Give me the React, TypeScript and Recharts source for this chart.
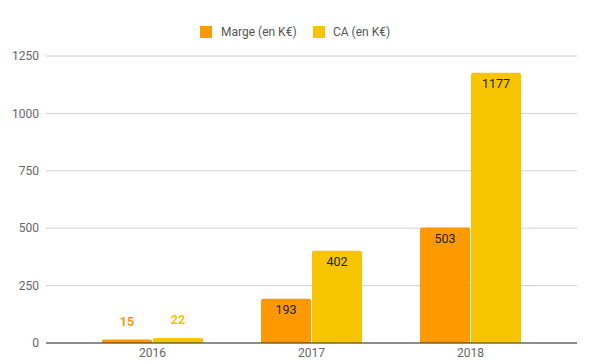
import React from "react";
import { BarChart, Bar, XAxis, YAxis, CartesianGrid, Legend, LabelList } from "recharts";

const years = ["2016", "2017", "2018"];
const marge = [15, 193, 503];
const ca = [22, 402, 1177];
const yTicks = [0, 250, 500, 750, 1000, 1250];

const ORANGE = "#ff9900";
const YELLOW = "#f6c500";

const data = years.map((y, i) => ({ year: y, marge: marge[i], ca: ca[i] }));

const makeLabel = (color: string) => (props: any) => {
  const { x, y, width, height, value } = props;
  const cx = x + width / 2;
  if (height < 24) {
    return (
      <text x={cx} y={y - 18} textAnchor="middle" dominantBaseline="central" fill={color} fontSize={12.5} fontWeight={700} fontFamily="Roboto">
        {value}
      </text>
    );
  }
  return (
    <text x={cx} y={y + 11} textAnchor="middle" dominantBaseline="central" fill="#222" fontSize={12.5} fontFamily="Roboto">
      {value}
    </text>
  );
};

const LegendContent = () => (
  <div style={{ height: 20, position: "relative", fontFamily: "Roboto", fontSize: 12, color: "#555" }}>
    <div style={{ position: "absolute", left: 200, top: 4, width: 12, height: 12, background: ORANGE }} />
    <div style={{ position: "absolute", left: 221, top: 1, lineHeight: "18px", whiteSpace: "nowrap" }}>Marge (en K€)</div>
    <div style={{ position: "absolute", left: 313, top: 4, width: 12, height: 12, background: YELLOW }} />
    <div style={{ position: "absolute", left: 333, top: 1, lineHeight: "18px", whiteSpace: "nowrap" }}>CA (en K€)</div>
  </div>
);

export default function App() {
  return (
    <div style={{ position: "absolute", left: 0, top: 0, width: 597, height: 364, background: "#fff" }}>
      <BarChart width={597} height={364} data={data} margin={{ top: 36, right: 20, bottom: 0, left: 0 }} barGap={1} barCategoryGap={0}>
        <CartesianGrid vertical={false} stroke="#d0d0d0" />
        <Legend verticalAlign="top" content={<LegendContent />} wrapperStyle={{ top: 22, left: 0, width: 597, height: 20 }} />
        <XAxis
          dataKey="year"
          height={21}
          padding={{ left: 27, right: 27 }}
          tickLine={false}
          axisLine={{ stroke: "#333", strokeWidth: 1 }}
          tick={{ fill: "#666", fontSize: 12, fontFamily: "Roboto" }}
          tickSize={0}
          tickMargin={5}
          interval={0}
        />
        <YAxis
          width={46}
          domain={[0, 1250]}
          ticks={yTicks}
          tickLine={false}
          axisLine={false}
          tick={{ fill: "#666", fontSize: 12, fontFamily: "Roboto" }}
          tickSize={0}
          tickMargin={7}
          interval={0}
        />
        <Bar dataKey="marge" fill={ORANGE} barSize={50} radius={[2, 2, 0, 0]} isAnimationActive={false}>
          <LabelList dataKey="marge" content={makeLabel(ORANGE)} />
        </Bar>
        <Bar dataKey="ca" fill={YELLOW} barSize={50} radius={[2, 2, 0, 0]} isAnimationActive={false}>
          <LabelList dataKey="ca" content={makeLabel(YELLOW)} />
        </Bar>
      </BarChart>
    </div>
  );
}
